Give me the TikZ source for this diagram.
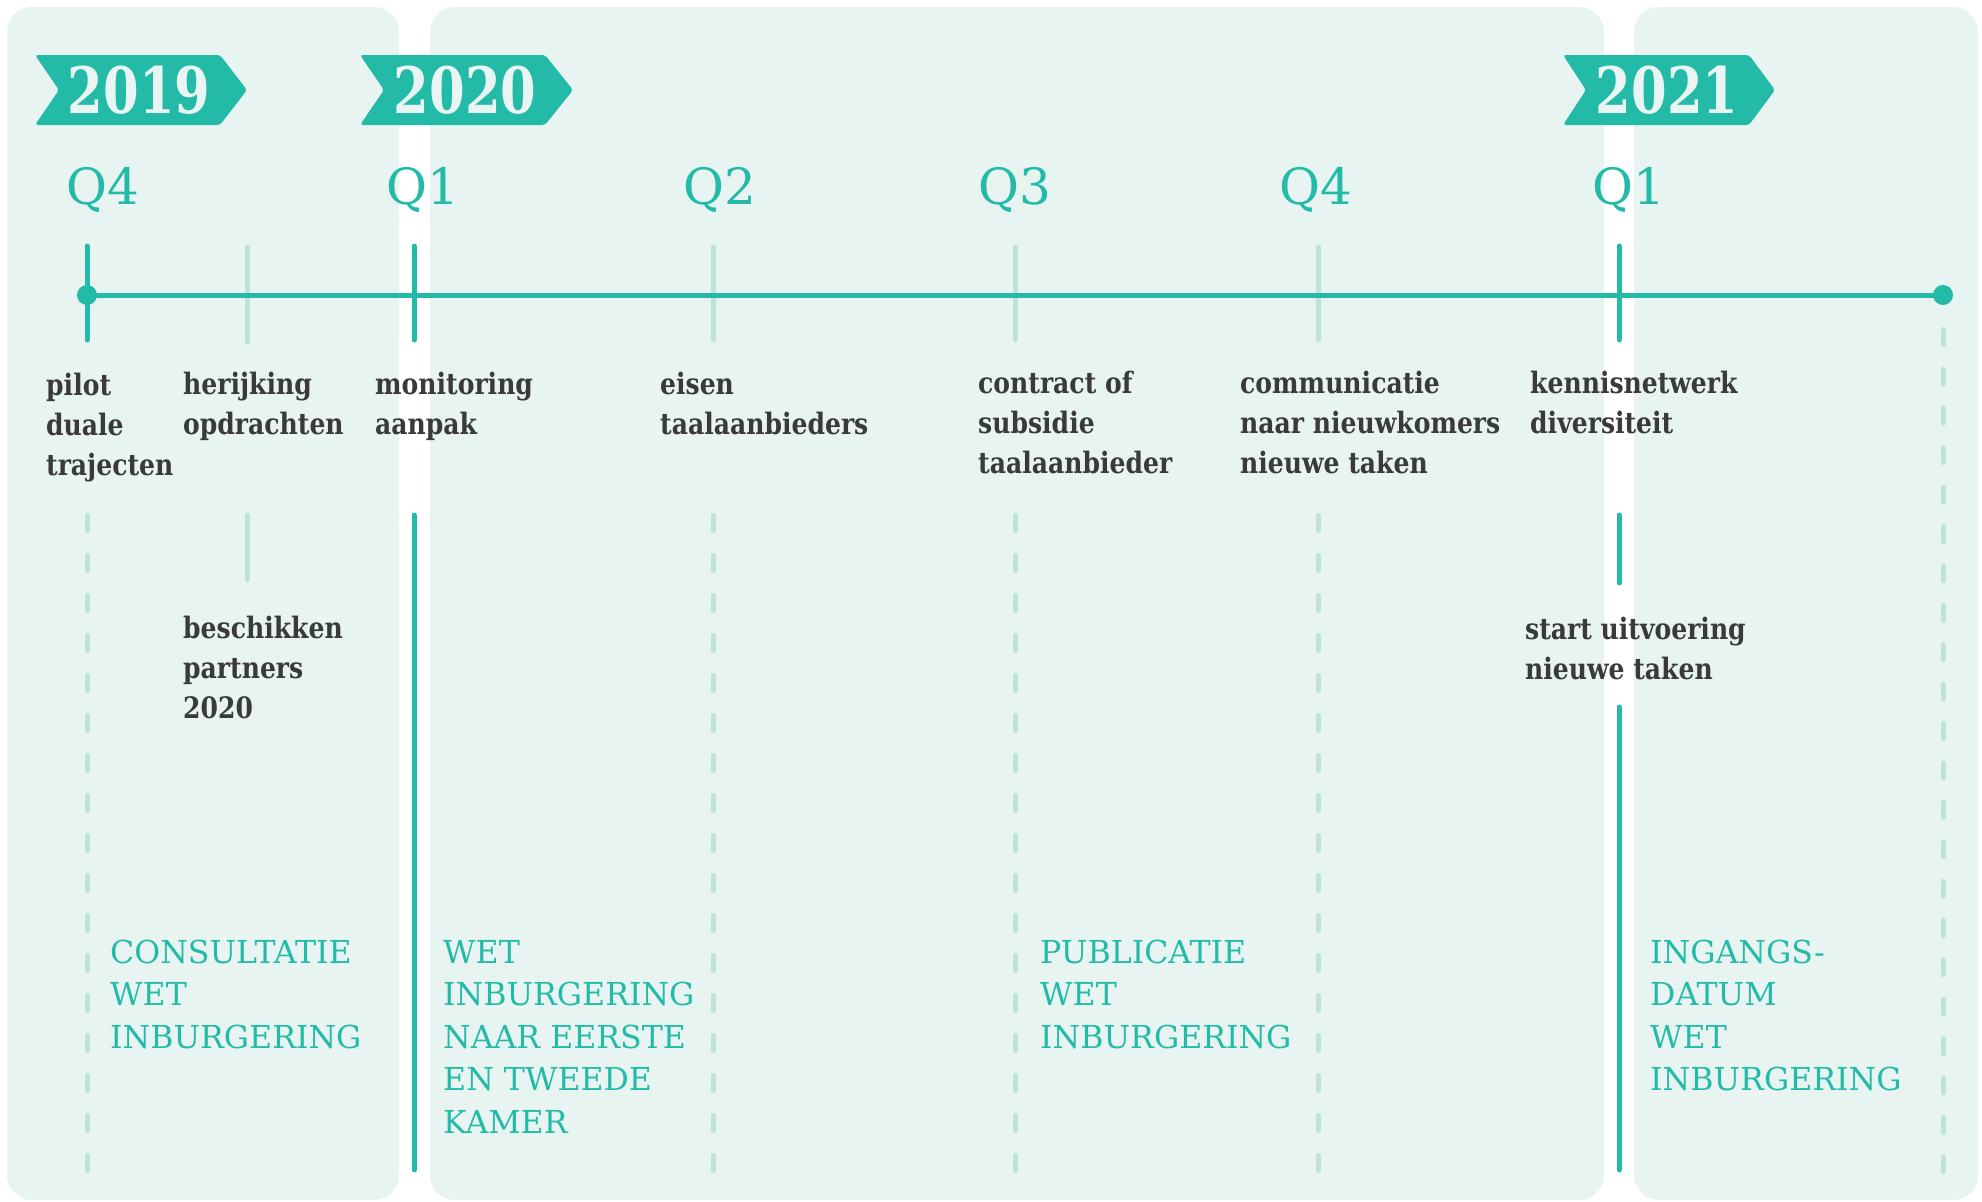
\documentclass[tikz,border=0pt]{standalone}
\usepackage{fontspec}
\newfontfamily\slab{DejaVu Serif}[FakeStretch=0.85]
\newfontfamily\slabr{DejaVu Serif}
\newfontfamily\yearf{DejaVu Serif}[FakeStretch=0.8]
\definecolor{tl}{HTML}{23BBA8}
\definecolor{pnl}{HTML}{E7F4F1}
\definecolor{lt}{HTML}{BEE3DA}
\definecolor{dk}{HTML}{3A3A3A}
\definecolor{yw}{HTML}{E8F5F2}
\newcommand{\ml}[1]{\begin{tabular}[t]{@{}l@{}}#1\end{tabular}}
\tikzset{
  panel/.style={fill=pnl, rounded corners=25pt},
  banner/.style={fill=tl, rounded corners=3pt},
  yr/.style={anchor=base, inner sep=0, text=yw, font=\yearf\bfseries\fontsize{64}{64}\selectfont},
  qlab/.style={anchor=base west, inner sep=0, text=tl, font=\slabr\fontsize{50}{50}\selectfont},
  lab/.style={anchor=base west, inner sep=0, text=dk, font=\slab\bfseries\fontsize{29.5}{40}\selectfont},
  caplab/.style={anchor=base west, inner sep=0, text=tl, font=\slabr\fontsize{31.6}{42.5}\selectfont},
  axis/.style={draw=tl, line width=5pt},
  dot/.style={circle, fill=tl, inner sep=0, minimum size=20pt},
  tick/.style={draw=tl, line width=5pt, line cap=round},
  ltick/.style={draw=lt, line width=5pt, line cap=round},
  dsh/.style={draw=lt, line width=5pt, line cap=round, dash pattern=on 15pt off 25pt},
  dshb/.style={draw=lt, line width=5pt, line cap=round, dash pattern=on 15pt off 24.4pt},
}
\begin{document}
\begin{tikzpicture}[x=1pt,y=-1pt]
\useasboundingbox (0,0) rectangle (1982,1202);
% panels
\fill[panel] (7,7) rectangle (399,1200);
\fill[panel] (430,7) rectangle (1604,1200);
\fill[panel] (1634,7) rectangle (1978,1200);
% year banners
\fill[banner] (35,55) -- (220,55) -- (247,90) -- (220,125) -- (35,125) -- (59,90) -- cycle;
\fill[banner] (360,55) -- (545,55) -- (573,90) -- (545,125) -- (360,125) -- (384,90) -- cycle;
\fill[banner] (1563,55) -- (1749,55) -- (1775,90) -- (1749,125) -- (1563,125) -- (1586,90) -- cycle;
\node[yr] (y2019) at (139,113) {2019};
\node[yr] (y2020) at (465,113) {2020};
\node[yr] (y2021) at (1667,113) {2021};
% quarter labels
\node[qlab] (q1) at (66,204) {Q4};
\node[qlab] (q2) at (386,204) {Q1};
\node[qlab] (q3) at (683,204) {Q2};
\node[qlab] (q4) at (978,204) {Q3};
\node[qlab] (q5) at (1279,204) {Q4};
\node[qlab] (q6) at (1592,204) {Q1};
% ticks
\draw[ltick] (247,247) -- (247,342);
\draw[ltick] (713,247) -- (713,340);
\draw[ltick] (1015,247) -- (1015,340);
\draw[ltick] (1318,247) -- (1318,340);
\draw[tick] (87,246) -- (87,340);
\draw[tick] (414,246) -- (414,340);
\draw[tick] (1619,246) -- (1619,340);
% axis
\node[dot] (d0) at (87,295) {};
\node[dot] (d1) at (1943,295) {};
\draw[axis] (d0.center) -- (d1.center);
% vertical lines below
\draw[dsh] (87,515.5) -- (87,1172);
\draw[ltick] (247,515) -- (247,580);
\draw[tick] (414,515) -- (414,1170);
\draw[dsh] (713,515.5) -- (713,1172);
\draw[dsh] (1015,515.5) -- (1015,1172);
\draw[dsh] (1318,515.5) -- (1318,1172);
\draw[tick] (1619,515) -- (1619,583);
\draw[tick] (1619,707) -- (1619,1170);
\draw[dshb] (1943,329.5) -- (1943,1172);
% labels
\node[lab] (l1) at (46,395) {\ml{pilot\\duale\\trajecten}};
\node[lab] (l2) at (183,394) {\ml{herijking\\opdrachten}};
\node[lab] (l3) at (375,394) {\ml{monitoring\\aanpak}};
\node[lab] (l4) at (660,394) {\ml{eisen\\taalaanbieders}};
\node[lab] (l5) at (978,393) {\ml{contract of\\subsidie\\taalaanbieder}};
\node[lab] (l6) at (1240,393) {\ml{communicatie\\naar nieuwkomers\\nieuwe taken}};
\node[lab] (l7) at (1530,393) {\ml{kennisnetwerk\\diversiteit}};
\node[lab] (l8) at (183,638) {\ml{beschikken\\partners\\2020}};
\node[lab] (l9) at (1525,639) {\ml{start uitvoering\\nieuwe taken}};
% captions
\node[caplab] (c1) at (110,963) {\ml{CONSULTATIE\\WET\\INBURGERING}};
\node[caplab] (c2) at (443,963) {\ml{WET\\INBURGERING\\NAAR EERSTE\\EN TWEEDE\\KAMER}};
\node[caplab] (c3) at (1040,963) {\ml{PUBLICATIE\\WET\\INBURGERING}};
\node[caplab] (c4) at (1650,963) {\ml{INGANGS-\\DATUM\\WET\\INBURGERING}};
\end{tikzpicture}
\end{document}
